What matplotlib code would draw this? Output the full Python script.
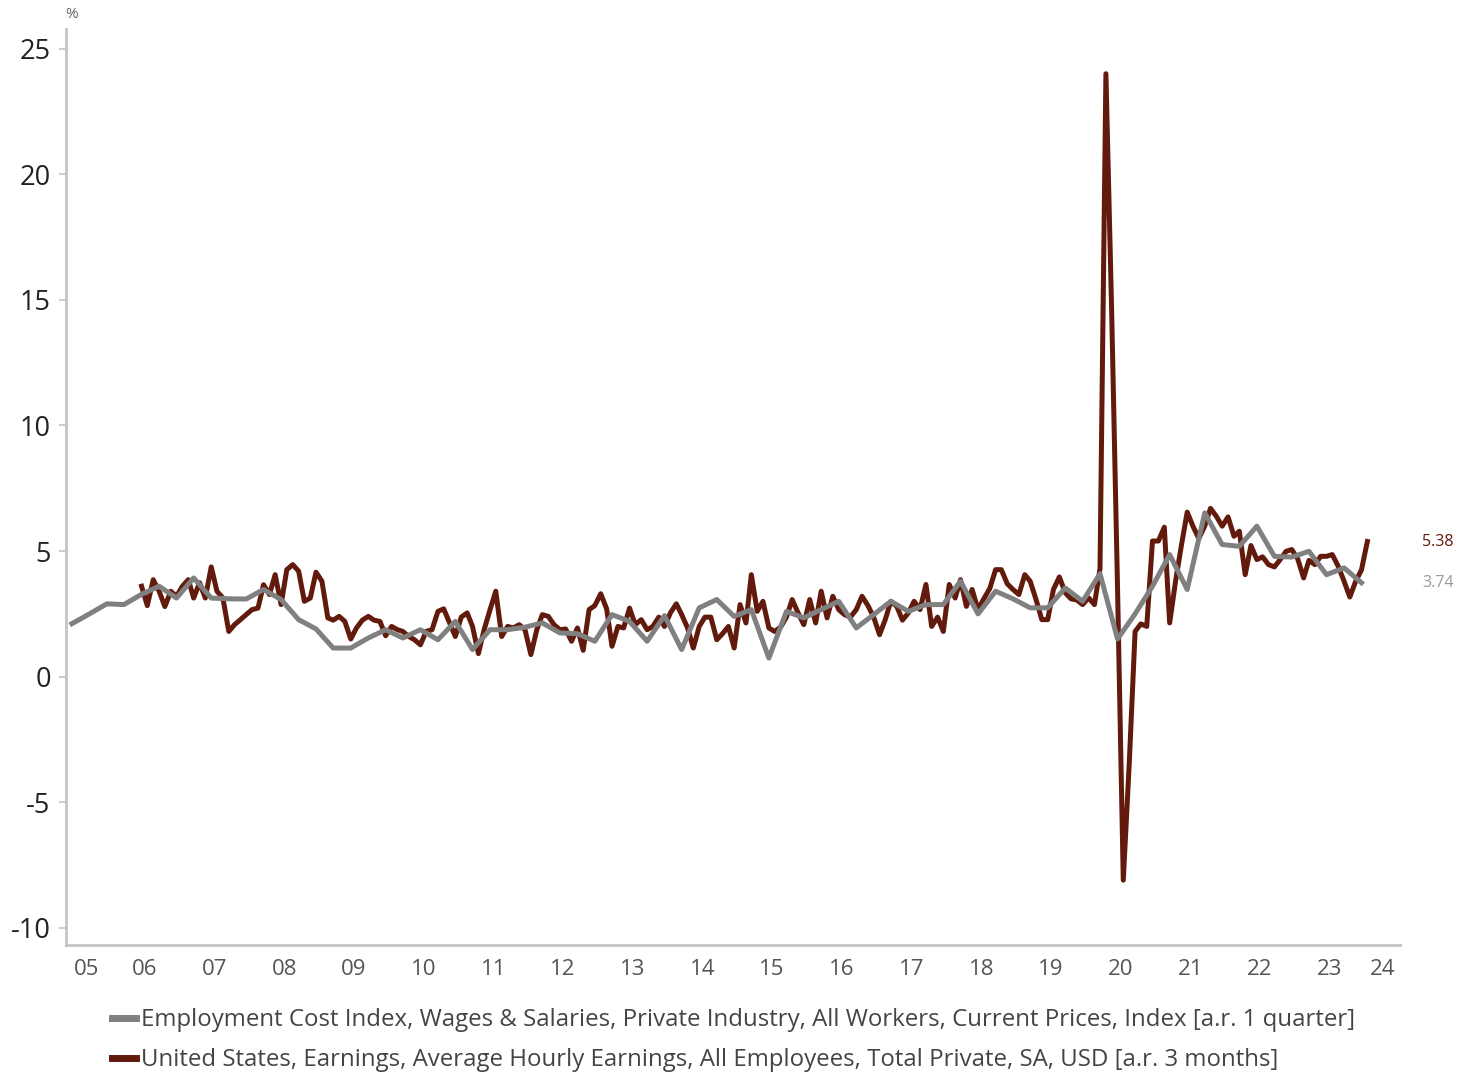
import numpy as np
import pandas as pd
import matplotlib
matplotlib.use("Agg")
import matplotlib.pyplot as plt
from matplotlib.lines import Line2D

plt.rcParams['font.family'] = ['Open Sans', 'DejaVu Sans']

# ---------------- data ----------------
eci_label = "Employment Cost Index, Wages & Salaries, Private Industry, All Workers, Current Prices, Index [a.r. 1 quarter]"
ahe_label = "United States, Earnings, Average Hourly Earnings, All Employees, Total Private, SA, USD [a.r. 3 months]"

eci_start = "2005-06-01"   # quarterly, first value Q2 2005
eci_values = [2.11, 2.5, 2.9, 2.87, 3.28, 3.6, 3.13, 3.93, 3.13, 3.1, 3.09, 3.47, 3.07,
              2.27, 1.9, 1.14, 1.14, 1.54, 1.87, 1.54, 1.87, 1.47, 2.2, 1.08, 1.87, 1.87,
              1.97, 2.14, 1.74, 1.71, 1.41, 2.47, 2.2, 1.41, 2.43, 1.08, 2.74, 3.07, 2.4,
              2.67, 0.74, 2.6, 2.34, 2.67, 3.0, 1.94, 2.47, 3.0, 2.6, 2.87, 2.87, 3.8,
              2.5, 3.4, 3.1, 2.74, 2.74, 3.53, 3.0, 4.1, 1.5, 2.5, 3.6, 4.86, 3.47, 6.52,
              5.26, 5.19, 5.99, 4.79, 4.76, 4.99, 4.06, 4.33, 3.74]

ahe_start = "2006-06-01"   # monthly, first value Jun 2006
ahe_values = [3.6, 2.83, 3.86, 3.4, 2.79, 3.4, 3.2, 3.6, 3.86, 3.13, 3.74, 3.13, 4.37, 3.4,
              3.13, 1.8, 2.07, 2.27, 2.47, 2.67, 2.73, 3.66, 3.27, 4.06, 2.87, 4.26, 4.46, 4.2,
              3.0, 3.13, 4.16, 3.8, 2.34, 2.25, 2.4, 2.2, 1.5, 1.94, 2.25, 2.4, 2.25, 2.2,
              1.63, 2.0, 1.87, 1.8, 1.6, 1.47, 1.27, 1.8, 1.87, 2.6, 2.7, 2.14, 1.6, 2.37,
              2.54, 2.0, 0.92, 1.87, 2.67, 3.4, 1.6, 2.0, 1.94, 2.07, 1.87,
              0.88, 1.87, 2.47, 2.4, 2.07, 1.87, 1.9, 1.41, 1.94, 1.05, 2.67, 2.83, 3.3, 2.7,
              1.21, 2.0, 1.94, 2.73, 2.07, 2.27, 1.87, 2.0, 2.37, 2.0, 2.54, 2.9, 2.47, 1.94,
              1.14, 2.0, 2.37, 2.37, 1.47, 1.71, 2.0, 1.14, 2.87, 2.14, 4.06, 2.6,
              3.0, 1.94, 1.8, 1.97, 2.37, 3.07, 2.54, 2.07, 3.07, 2.14, 3.4, 2.34, 3.2, 2.67,
              2.47, 2.37, 2.67, 3.2, 2.83, 2.37, 1.67, 2.3, 3.0, 2.8, 2.25, 2.54, 3.0, 2.67,
              3.67, 2.0, 2.37, 1.8, 3.67, 3.13, 3.86, 2.8, 3.47, 2.67, 3.1, 3.5,
              4.26, 4.26, 3.7, 3.47, 3.27, 4.06, 3.8, 3.07, 2.27, 2.27, 3.47, 3.97, 3.34, 3.1,
              3.05, 2.87, 3.14, 2.87, 4.3, 24.0, 14.6, 3.5, -8.1,
              -3.5, 1.8, 2.1, 2.0, 5.4, 5.4, 5.95, 2.14, 3.8, 5.2, 6.55, 5.99, 5.5, 6.0, 6.7,
              6.38, 5.99,
              6.36, 5.59, 5.79, 4.06, 5.22, 4.66, 4.77, 4.46, 4.37, 4.66, 4.99, 5.06, 4.69,
              3.93, 4.63, 4.46, 4.79, 4.79, 4.86, 4.4, 3.8, 3.17, 3.8, 4.25, 5.38]

year_labels = ["05", "06", "07", "08", "09", "10", "11", "12", "13", "14", "15", "16",
               "17", "18", "19", "20", "21", "22", "23", "24"]
y_ticks = [-10, -5, 0, 5, 10, 15, 20, 25]
last_ahe_label = "5.38"
last_eci_label = "3.74"

# ---------------- style ----------------
BROWN = "#621A0C"
GREY = "#808080"
SPINE = "#C4C4C4"

eci_dates = pd.date_range(eci_start, periods=len(eci_values), freq="3MS") + pd.Timedelta(days=14)
ahe_dates = pd.date_range(ahe_start, periods=len(ahe_values), freq="MS") + pd.Timedelta(days=14)

fig = plt.figure(figsize=(14.64, 10.73), dpi=100)
ax = fig.add_axes([66 / 1464, 1 - 945 / 1073, (1400 - 66) / 1464, (945 - 29) / 1073])

ax.plot(ahe_dates, ahe_values, color=BROWN, lw=3.6, solid_joinstyle="round", zorder=3)
ax.plot(eci_dates, eci_values, color=GREY, lw=3.6, solid_joinstyle="round", zorder=4)

ax.set_xlim(pd.Timestamp("2005-05-15"), pd.Timestamp("2024-07-04"))
ax.set_ylim(-10.68, 25.78)

# x ticks: centred in each year; first/last centred in visible part
xt = [pd.Timestamp("2005-09-01")] + [pd.Timestamp(f"{2000 + int(l)}-07-02") for l in year_labels[1:-1]] + [pd.Timestamp("2024-04-05")]
ax.set_xticks(xt)
ax.set_xticklabels(year_labels)
ax.tick_params(axis="x", length=0, pad=10, labelsize=16, labelcolor="#555555")

ax.set_yticks(y_ticks)
ax.set_yticklabels([f"{v}" for v in y_ticks])
ax.tick_params(axis="y", length=5, width=1.2, color=SPINE, pad=6, labelsize=19.5, labelcolor="#222222")

for s in ["top", "right"]:
    ax.spines[s].set_visible(False)
for s in ["left", "bottom"]:
    ax.spines[s].set_color(SPINE)
    ax.spines[s].set_linewidth(2.0)

# last-value labels
ax.annotate(last_ahe_label, xy=(1, ahe_values[-1]), xycoords=("axes fraction", "data"),
            xytext=(16, 0), textcoords="offset points", color=BROWN, fontsize=11.5,
            va="center", ha="left")
ax.annotate(last_eci_label, xy=(1, eci_values[-1]), xycoords=("axes fraction", "data"),
            xytext=(16, 0), textcoords="offset points", color="#999999", fontsize=11.5,
            va="center", ha="left")

fig.text(65 / 1464, 1 - 15 / 1073, "%", fontsize=11, color="#666666", va="center", ha="left")

handles = [Line2D([], [], color=GREY, lw=5), Line2D([], [], color=BROWN, lw=5)]
fig.legend(handles, [eci_label, ahe_label], loc="upper left",
           bbox_to_anchor=(112 / 1464, 1 - 1008 / 1073), frameon=False,
           fontsize=17.3, labelcolor="#444444", handlelength=1.0, handletextpad=0.2,
           labelspacing=0.68, borderaxespad=0, borderpad=0)

fig.savefig("out.png", dpi=100)
